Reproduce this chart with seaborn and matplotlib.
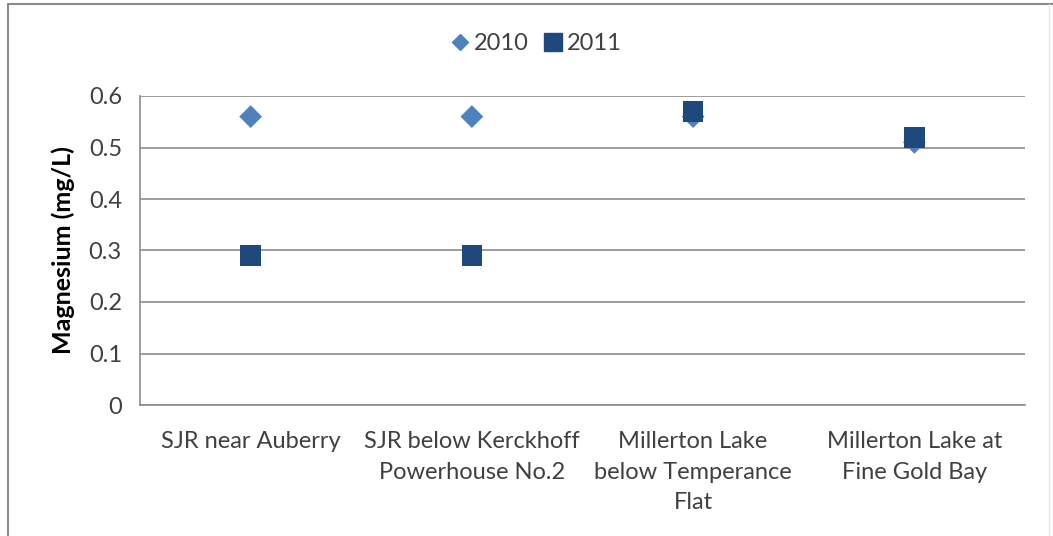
import numpy as np
import pandas as pd
import matplotlib
matplotlib.use('Agg')
from matplotlib import pyplot as plt
from matplotlib.lines import Line2D
import seaborn as sns

sites = ['SJR near Auberry', 'SJR below Kerckhoff Powerhouse No.2',
         'Millerton Lake below Temperance Flat', 'Millerton Lake at Fine Gold Bay']
tick_labels = ['SJR near Auberry', 'SJR below Kerckhoff\nPowerhouse No.2',
               'Millerton Lake\nbelow Temperance\nFlat', 'Millerton Lake at\nFine Gold Bay']
mg_2010 = [0.56, 0.56, 0.56, 0.51]
mg_2011 = [0.29, 0.29, 0.57, 0.52]

df = pd.DataFrame({
    'site': sites * 2,
    'pos': list(range(len(sites))) * 2,
    'year': ['2010'] * len(sites) + ['2011'] * len(sites),
    'mg': mg_2010 + mg_2011,
})

sns.set_style('white')
plt.rcParams['font.family'] = ['Lato', 'DejaVu Sans']
text_color = '#404040'
grid_color = '#8c8c8c'

fig = plt.figure(figsize=(10.53, 5.36), dpi=100)
ax = fig.add_axes([140 / 1053, 131 / 536, 885 / 1053, 309 / 536])

colors = {'2010': '#4f81bd', '2011': '#1f497d'}
markers = {'2010': 'D', '2011': 's'}
sizes = {'2010': 135, '2011': 220}
for yr in ['2010', '2011']:
    sub = df[df['year'] == yr]
    sns.scatterplot(data=sub, x='pos', y='mg', marker=markers[yr], color=colors[yr],
                    s=sizes[yr], edgecolor='none', ax=ax, zorder=3, legend=False)

ax.set_xlim(-0.5, len(sites) - 0.5)
ax.set_ylim(0, 0.6)
ax.set_yticks(np.arange(0, 0.61, 0.1))
ax.set_yticklabels(['0'] + ['%.1f' % v for v in np.arange(0.1, 0.61, 0.1)])
ax.yaxis.grid(True, color=grid_color, linewidth=1.2)
ax.set_axisbelow(True)

ax.set_xticks(range(len(sites)))
ax.set_xticklabels(tick_labels, fontsize=17, color=text_color, linespacing=1.55)
ax.tick_params(axis='x', which='major', length=0, pad=19)
ax.set_xticks(np.arange(-0.5, len(sites), 1.0), minor=True)
ax.tick_params(axis='x', which='minor', length=7, width=1.2, color=grid_color)
ax.tick_params(axis='y', length=7, width=1.2, color=grid_color, labelsize=17,
               labelcolor=text_color, pad=6)

for side in ['top', 'right']:
    ax.spines[side].set_visible(False)
for side in ['left', 'bottom']:
    ax.spines[side].set_color(grid_color)
    ax.spines[side].set_linewidth(1.2)

ax.set_xlabel('')
ax.set_ylabel('Magnesium (mg/L)', fontsize=18, fontweight='bold', color='black', labelpad=10)

handles = [Line2D([], [], linestyle='none', marker='D', color=colors['2010'], markersize=8.5),
           Line2D([], [], linestyle='none', marker='s', color=colors['2011'], markersize=13)]
fig.legend(handles, ['2010', '2011'], loc='center', bbox_to_anchor=(535 / 1053, 1 - 44 / 536),
           ncol=2, frameon=False, fontsize=17, handletextpad=0.1, columnspacing=0.5,
           handlelength=1.0, labelcolor=text_color)

# outer frame
fig.add_artist(Line2D([8 / 1053, 8 / 1053], [0, 1 - 4 / 536], transform=fig.transFigure,
                      color='#8a8a8a', linewidth=1.5))
fig.add_artist(Line2D([8 / 1053, 1], [1 - 4 / 536, 1 - 4 / 536], transform=fig.transFigure,
                      color='#8a8a8a', linewidth=1.5))
fig.add_artist(Line2D([1049 / 1053, 1049 / 1053], [0, 1 - 4 / 536], transform=fig.transFigure,
                      color='#e6e6e6', linewidth=1))

fig.savefig('out.png', dpi=100)
